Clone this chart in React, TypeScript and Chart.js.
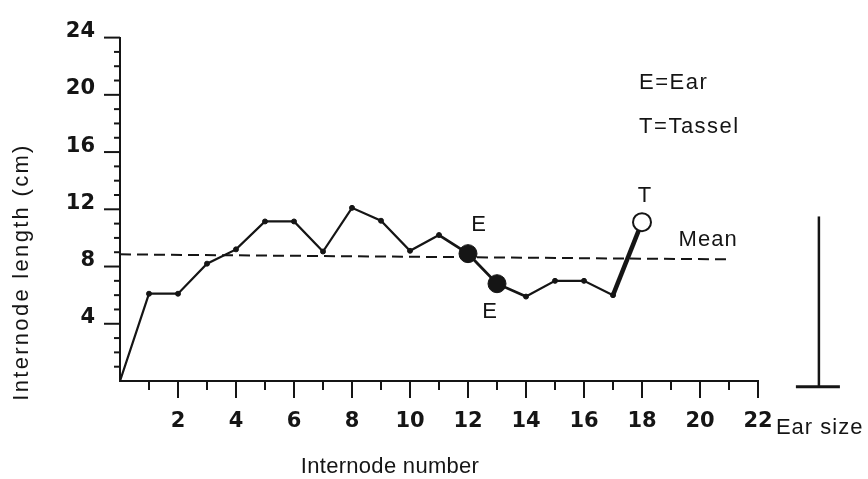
import { useEffect, useRef } from 'react';
import { Chart, registerables } from 'chart.js';

Chart.register(...registerables);

// ---- data ----
const internodeNumbers = [0, 1, 2, 3, 4, 5, 6, 7, 8, 9, 10, 11, 12, 13, 14, 15, 16, 17, 18];
const internodeLengths = [0, 6.1, 6.1, 8.2, 9.2, 11.15, 11.15, 9.05, 12.1, 11.2, 9.1, 10.2, 8.9, 6.8, 5.9, 7.0, 7.0, 6.0, 11.1];
const earIndices = [12, 13];
const tasselIndex = 18;
const meanX = [0, 21];
const meanY = [8.85, 8.5];
const xTickLabels = [2, 4, 6, 8, 10, 12, 14, 16, 18, 20, 22];
const yTickLabels = [4, 8, 12, 16, 20, 24];
const earSizeX = 24.1;
const earSizeRange = [-0.4, 11.5];
const earLabels = [
  { text: 'E', x: 12.38, y: 10.9 },
  { text: 'E', x: 12.76, y: 4.8 },
];
const tasselLabel = { text: 'T', x: 18.1, y: 12.9 };
const meanLabel = { text: 'Mean', x: 20.28, y: 9.88 };
const keyLines = [
  { text: 'E=Ear', x: 17.9, y: 20.85 },
  { text: 'T=Tassel', x: 17.9, y: 17.76 },
];

const INK = '#151515';
const TEXT_FONT = '22px "Liberation Sans", Arial, sans-serif';

const decorPlugin = {
  id: 'decor',
  afterDatasetsDraw(chart: any) {
    const { ctx, scales } = chart;
    const x = scales.x;
    const y = scales.y;
    const bottom = y.getPixelForValue(0);
    const left = x.getPixelForValue(0);
    ctx.save();
    ctx.strokeStyle = INK;
    ctx.lineWidth = 2;
    // x tick marks
    for (let v = 1; v <= 22; v++) {
      const px = x.getPixelForValue(v);
      const len = v % 2 === 0 ? 17 : 9;
      ctx.beginPath();
      ctx.moveTo(px, bottom);
      ctx.lineTo(px, bottom + len);
      ctx.stroke();
    }
    // y tick marks
    for (let v = 1; v <= 24; v++) {
      const py = y.getPixelForValue(v);
      const len = v % 4 === 0 ? 16 : 6;
      ctx.beginPath();
      ctx.moveTo(left, py);
      ctx.lineTo(left - len, py);
      ctx.stroke();
    }
    // ear size mark
    const ex = x.getPixelForValue(earSizeX);
    const eTop = y.getPixelForValue(earSizeRange[1]);
    const eBase = y.getPixelForValue(earSizeRange[0]);
    ctx.lineWidth = 2.5;
    ctx.beginPath();
    ctx.moveTo(ex, eTop);
    ctx.lineTo(ex, eBase);
    ctx.stroke();
    ctx.lineWidth = 3;
    ctx.beginPath();
    ctx.moveTo(ex - 23, eBase);
    ctx.lineTo(ex + 21, eBase);
    ctx.stroke();

    // texts
    ctx.fillStyle = INK;
    ctx.font = TEXT_FONT;
    ctx.textBaseline = 'middle';
    (ctx as any).letterSpacing = '1px';
    ctx.textAlign = 'center';
    for (const l of earLabels) {
      ctx.fillText(l.text, x.getPixelForValue(l.x), y.getPixelForValue(l.y));
    }
    ctx.fillText(tasselLabel.text, x.getPixelForValue(tasselLabel.x), y.getPixelForValue(tasselLabel.y));
    ctx.fillText(meanLabel.text, x.getPixelForValue(meanLabel.x), y.getPixelForValue(meanLabel.y));
    ctx.textAlign = 'left';
    (ctx as any).letterSpacing = '1.5px';
    for (const l of keyLines) {
      ctx.fillText(l.text, x.getPixelForValue(l.x), y.getPixelForValue(l.y));
    }
    (ctx as any).letterSpacing = '1px';
    ctx.fillText('Ear size', ex - 43, 428);

    // axis titles
    (ctx as any).letterSpacing = '0.3px';
    ctx.textAlign = 'center';
    ctx.fillText('Internode number', 390, 467);
    ctx.translate(22, 272);
    ctx.rotate(-Math.PI / 2);
    (ctx as any).letterSpacing = '2.3px';
    ctx.fillText('Internode length (cm)', 0, 0);
    ctx.restore();
  },
};

export default function App() {
  const canvasRef = useRef<HTMLCanvasElement | null>(null);

  useEffect(() => {
    if (!canvasRef.current) return;
    const mainData = internodeNumbers.map((n, i) => ({ x: n, y: internodeLengths[i] }));
    const meanData = meanX.map((n, i) => ({ x: n, y: meanY[i] }));
    const chart = new Chart(canvasRef.current, {
      type: 'line',
      data: {
        datasets: [
          {
            label: 'Internode length',
            data: mainData,
            borderColor: INK,
            borderWidth: 2.2,
            tension: 0,
            segment: {
              borderWidth: (c: any) =>
                c.p1DataIndex === tasselIndex ? 4.5 : c.p0DataIndex >= 11 && c.p1DataIndex <= 14 ? 2.8 : 2.2,
            },
            pointRadius: (c: any) =>
              c.dataIndex === 0 ? 0 : earIndices.includes(c.dataIndex) || c.dataIndex === tasselIndex ? 9 : 2.5,
            pointBackgroundColor: (c: any) => (c.dataIndex === tasselIndex ? '#ffffff' : INK),
            pointBorderColor: INK,
            pointBorderWidth: (c: any) => (c.dataIndex === tasselIndex ? 2 : 1),
            order: 0,
          },
          {
            label: 'Mean',
            data: meanData,
            borderColor: INK,
            borderWidth: 2,
            borderDash: [11, 6],
            pointRadius: 0,
            order: 1,
          },
        ],
      },
      options: {
        animation: false,
        responsive: true,
        maintainAspectRatio: false,
        layout: { padding: { top: 31, right: 110, left: 0, bottom: 0 } },
        plugins: { legend: { display: false }, tooltip: { enabled: false }, title: { display: false } },
        scales: {
          x: {
            type: 'linear',
            min: 0,
            max: 22,
            afterFit: (s: any) => {
              s.height = 98;
            },
            afterBuildTicks: (s: any) => {
              s.ticks = xTickLabels.map((v) => ({ value: v }));
            },
            grid: { display: true, drawOnChartArea: false, drawTicks: false },
            border: { display: true, color: INK, width: 2 },
            ticks: {
              padding: 28,
              color: INK,
              font: { family: '"DejaVu Sans", sans-serif', weight: 'bold', size: 21 },
              maxRotation: 0,
              autoSkip: false,
            },
          },
          y: {
            type: 'linear',
            min: 0,
            max: 24,
            afterFit: (s: any) => {
              s.width = 120;
            },
            afterBuildTicks: (s: any) => {
              s.ticks = yTickLabels.map((v) => ({ value: v }));
            },
            grid: { display: true, drawOnChartArea: false, drawTicks: false },
            border: { display: true, color: INK, width: 2 },
            ticks: {
              padding: 25,
              labelOffset: -6,
              color: INK,
              font: { family: '"DejaVu Sans", sans-serif', weight: 'bold', size: 21 },
              autoSkip: false,
            },
          },
        },
      },
      plugins: [decorPlugin],
    } as any);
    return () => chart.destroy();
  }, []);

  return (
    <div style={{ position: 'absolute', left: 0, top: 0, width: 868, height: 479, background: '#fff' }}>
      <canvas ref={canvasRef} />
    </div>
  );
}
